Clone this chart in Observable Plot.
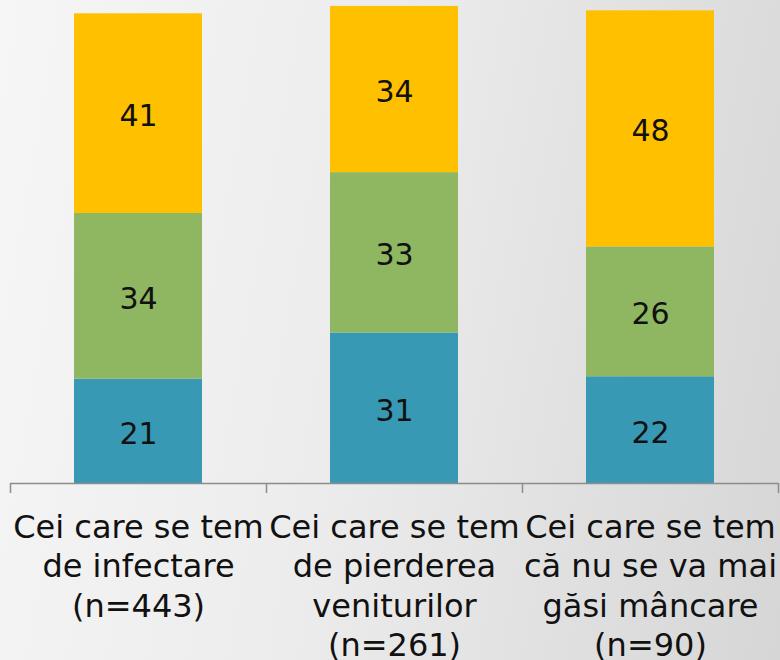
<!DOCTYPE html>
<html>
<head>
<meta charset="utf-8">
<script src="https://cdn.jsdelivr.net/npm/d3@7"></script>
<script src="https://cdn.jsdelivr.net/npm/@observablehq/plot@0.6"></script>
<style>
  html, body { margin: 0; padding: 0; }
  body { width: 780px; height: 660px; overflow: hidden;
         background: linear-gradient(100deg, #f6f6f6 0%, #ececec 45%, #d6d6d6 100%); }
</style>
</head>
<body>
<div id="chart"></div>
<script>
const categories = ["infectare", "venituri", "mancare"];
const categoryLabels = [
  "Cei care se tem\nde infectare\n(n=443)",
  "Cei care se tem\nde pierderea\nveniturilor\n(n=261)",
  "Cei care se tem\ncă nu se va mai\ngăsi mâncare\n(n=90)"
];
const seriesNames = ["s1", "s2", "s3"];
const seriesColors = ["#3799B4", "#8FB660", "#FFC000"];
// estimated (unrounded) values; labels show rounded values
const valuesS1 = [21.2, 30.6, 21.7];
const valuesS2 = [33.7, 32.6, 26.4];
const valuesS3 = [40.6, 33.8, 48.0];

const rows = [];
[valuesS1, valuesS2, valuesS3].forEach((vals, si) => {
  vals.forEach((v, ci) => rows.push({cat: categories[ci], series: seriesNames[si], value: v}));
});

const width = 780, height = 660, mL = 10, mR = 2;
const step = (width - mL - mR) / categories.length;
const labelMap = new Map(categories.map((c, i) => [c, categoryLabels[i]]));

const chart = Plot.plot({
  width, height,
  marginLeft: mL, marginRight: mR, marginTop: 1, marginBottom: 177,
  style: {background: "transparent", fontFamily: "DejaVu Sans, Verdana, sans-serif", color: "#111"},
  x: {domain: categories, paddingInner: 0.5, paddingOuter: 0.25, round: false, axis: null},
  y: {domain: [0, 98], axis: null},
  color: {domain: seriesNames, range: seriesColors},
  marks: [
    Plot.barY(rows, Plot.stackY({x: "cat", y: "value", fill: "series", order: seriesNames})),
    Plot.text(rows, Plot.stackY({x: "cat", y: "value", z: "series", order: seriesNames,
      text: d => String(Math.round(d.value)), fontSize: 30, dy: 3, fill: "#111"})),
    Plot.ruleY([0], {stroke: "#8c8c8c", strokeWidth: 1.5}),
    Plot.ruleX(categories, {x: d => d, y1: 0, y2: 0, dx: -step / 2, insetBottom: -10, stroke: "#8c8c8c", strokeWidth: 1.5}),
    Plot.ruleX(categories.slice(-1), {x: d => d, y1: 0, y2: 0, dx: step / 2, insetBottom: -10, stroke: "#8c8c8c", strokeWidth: 1.5}),
    Plot.text(categories, {x: d => d, y: 0, text: d => labelMap.get(d), lineAnchor: "top",
      dy: 26, fontSize: 32, lineHeight: 1.235, fill: "#111"})
  ]
});
document.getElementById("chart").appendChild(chart);
</script>
</body>
</html>
